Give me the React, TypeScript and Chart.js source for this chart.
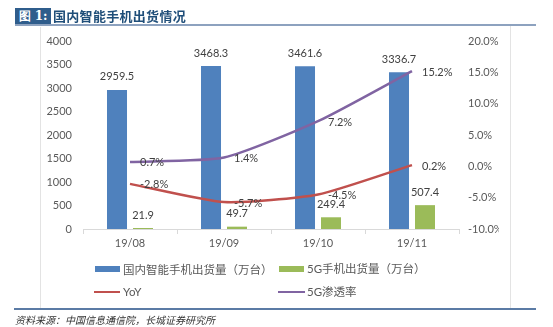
import React, { useEffect, useRef } from "react";
import { Chart, registerables } from "chart.js";

Chart.register(...registerables);

const categories = ["19/08", "19/09", "19/10", "19/11"];
const shipments = [2959.5, 3468.3, 3461.6, 3336.7];
const shipments5G = [21.9, 49.7, 249.4, 507.4];
const yoy = [-2.8, -5.7, -4.5, 0.2];
const penetration = [0.7, 1.4, 7.2, 15.2];

const seriesNames = ["国内智能手机出货量（万台）", "5G手机出货量（万台）", "YoY", "5G渗透率"];
const titleLabel = "图 1:";
const titleText = "国内智能手机出货情况";
const sourceText = "资料来源：中国信息通信院，长城证券研究所";

const BLUE = "#4F81BD";
const GREEN = "#9BBB59";
const RED = "#C0504D";
const PURPLE = "#8064A2";
const TEXT = "#595959";
const NUM_FONT = "Lato, 'Liberation Sans', sans-serif";

const labelPlugin = {
  id: "valueLabels",
  afterDatasetsDraw(chart: any) {
    const ctx = chart.ctx;
    ctx.save();
    ctx.font = `11px ${NUM_FONT}`;
    ctx.fillStyle = "#404040";
    chart.data.datasets.forEach((ds: any, i: number) => {
      const meta = chart.getDatasetMeta(i);
      meta.data.forEach((el: any, j: number) => {
        const v = ds.data[j];
        if (ds.type === "bar") {
          ctx.textAlign = "center";
          ctx.textBaseline = "middle";
          ctx.fillText(v.toFixed(1), el.x, el.y - 13);
        } else {
          ctx.textAlign = "left";
          ctx.textBaseline = "middle";
          ctx.fillText(v.toFixed(1) + "%", el.x + 10, el.y + 1);
        }
      });
    });
    ctx.restore();
  },
};

export default function App() {
  const ref = useRef<HTMLCanvasElement>(null);
  useEffect(() => {
    if (!ref.current) return;
    const chart = new Chart(ref.current, {
      type: "bar",
      data: {
        labels: categories,
        datasets: [
          {
            type: "line",
            label: seriesNames[2],
            data: yoy,
            yAxisID: "y1",
            borderColor: RED,
            borderWidth: 2.5,
            pointRadius: 0,
            tension: 0.2,
            order: 0,
          } as any,
          {
            type: "line",
            label: seriesNames[3],
            data: penetration,
            yAxisID: "y1",
            borderColor: PURPLE,
            borderWidth: 2.5,
            pointRadius: 0,
            tension: 0.2,
            order: 0,
          } as any,
          {
            type: "bar",
            label: seriesNames[0],
            data: shipments,
            yAxisID: "y",
            backgroundColor: BLUE,
            categoryPercentage: 0.553,
            barPercentage: 0.77,
            order: 1,
          } as any,
          {
            type: "bar",
            label: seriesNames[1],
            data: shipments5G,
            yAxisID: "y",
            backgroundColor: GREEN,
            categoryPercentage: 0.553,
            barPercentage: 0.77,
            order: 1,
          } as any,
        ],
      },
      options: {
        animation: false,
        responsive: false,
        devicePixelRatio: 1,
        layout: { padding: { left: 43, right: 54, top: 41, bottom: 68 } },
        plugins: { legend: { display: false }, tooltip: { enabled: false } },
        scales: {
          x: {
            offset: true,
            grid: {
              display: true,
              offset: true,
              drawOnChartArea: false,
              drawTicks: true,
              tickLength: 5,
              color: "#D9D9D9",
            },
            border: { display: true, color: "#D9D9D9" },
            ticks: { color: TEXT, font: { family: NUM_FONT, size: 11 }, padding: 3 },
            afterFit: (s: any) => {
              s.height = 30;
            },
          },
          y: {
            position: "left",
            min: 0,
            max: 4000,
            grid: { display: false, drawTicks: false },
            border: { display: false },
            ticks: {
              stepSize: 500,
              color: TEXT,
              font: { family: NUM_FONT, size: 11 },
              padding: 11,
              callback: (v: any) => String(v),
            },
            afterFit: (s: any) => {
              s.width = 40;
            },
          },
          y1: {
            position: "right",
            min: -10,
            max: 20,
            grid: { display: false, drawTicks: false },
            border: { display: false },
            ticks: {
              stepSize: 5,
              color: TEXT,
              font: { family: NUM_FONT, size: 11 },
              padding: 9,
              callback: (v: any) => Number(v).toFixed(1) + "%",
            },
            afterFit: (s: any) => {
              s.width = 40;
            },
          },
        },
      },
      plugins: [labelPlugin],
    });
    return () => chart.destroy();
  }, []);

  const cjk = "'Noto Sans CJK SC', sans-serif";
  const legendText: React.CSSProperties = {
    position: "absolute",
    fontFamily: cjk,
    fontSize: 11.5,
    color: TEXT,
    lineHeight: "14px",
    whiteSpace: "nowrap",
  };
  const legendLatin: React.CSSProperties = { ...legendText, fontFamily: `${NUM_FONT.split(",")[0]}, ${cjk}` };

  return (
    <div
      style={{
        position: "absolute",
        left: 0,
        top: 0,
        width: 553,
        height: 327,
        background: "#fff",
        overflow: "hidden",
      }}
    >
      {/* frame lines */}
      <div style={{ position: "absolute", left: 40, top: 27, width: 1, height: 282, background: "#E3E3E3" }} />
      <div style={{ position: "absolute", left: 510, top: 26, width: 1, height: 283, background: "#E3E3E3" }} />
      <canvas ref={ref} width={553} height={327} style={{ position: "absolute", left: 0, top: 0, width: 553, height: 327 }} />
      {/* title */}
      <div
        style={{
          position: "absolute",
          left: 15,
          top: 8,
          width: 36,
          height: 16,
          background: "#2F5D8C",
          color: "#fff",
          fontFamily: "'DejaVu Serif', serif",
          fontWeight: "bold",
          fontSize: 12,
          lineHeight: "16px",
          textAlign: "center",
          whiteSpace: "nowrap",
        }}
      >
        {titleLabel}
      </div>
      <div
        style={{
          position: "absolute",
          left: 53,
          top: 7,
          color: "#1F4E79",
          fontFamily: cjk,
          fontWeight: "bold",
          fontSize: 13,
          lineHeight: "17px",
          letterSpacing: 0.3,
          whiteSpace: "nowrap",
        }}
      >
        {titleText}
      </div>
      <div style={{ position: "absolute", left: 15, top: 24, width: 521, height: 2, background: "#8DA2BF" }} />
      {/* legend */}
      <div style={{ position: "absolute", left: 95, top: 266, width: 25, height: 6, background: BLUE }} />
      <div style={{ ...legendText, left: 123, top: 262 }}>{seriesNames[0]}</div>
      <div style={{ position: "absolute", left: 279, top: 266, width: 25, height: 6, background: GREEN }} />
      <div style={{ ...legendLatin, left: 307, top: 262 }}>{seriesNames[1]}</div>
      <div style={{ position: "absolute", left: 94, top: 291, width: 26, height: 2, background: RED }} />
      <div style={{ ...legendLatin, left: 123, top: 285 }}>{seriesNames[2]}</div>
      <div style={{ position: "absolute", left: 278, top: 291, width: 27, height: 2, background: PURPLE }} />
      <div style={{ ...legendLatin, left: 307, top: 285 }}>{seriesNames[3]}</div>
      {/* footer */}
      <div style={{ position: "absolute", left: 14, top: 308, width: 522, height: 2, background: "#5B7BA5" }} />
      <div
        style={{
          position: "absolute",
          left: 15,
          top: 313,
          fontFamily: cjk,
          fontStyle: "italic",
          fontSize: 10,
          lineHeight: "13px",
          color: "#333",
          whiteSpace: "nowrap",
        }}
      >
        {sourceText}
      </div>
    </div>
  );
}
